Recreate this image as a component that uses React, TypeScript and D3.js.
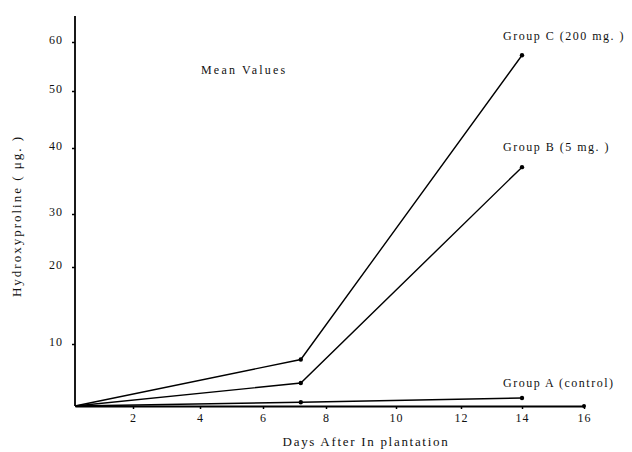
import * as d3 from "d3";
import React, { useEffect, useRef } from "react";

// days after implantation and mean hydroxyproline (µg.) per group
const days = [0, 7.2, 14];
const groupC = [0, 7.5, 57.3];
const groupB = [0, 3.7, 37.1];
const groupA = [0, 0.6, 1.3];
const seriesNames = ["Group C (200 mg. )", "Group B (5 mg. )", "Group A (control)"];

const xTicks = [2, 4, 6, 8, 10, 12, 14, 16];
const yTicks = [10, 20, 30, 40, 50, 60];

const W = 632;
const H = 452;
const FONT = "'Liberation Serif', 'Times New Roman', serif";

export default function App() {
  const chartRef = useRef<SVGSVGElement | null>(null);

  useEffect(() => {
    const svg = d3.select(chartRef.current);
    svg.selectAll("*").remove();

    // the axes in the original are hand drawn, so the scales are piecewise
    const x = d3
      .scaleLinear()
      .domain([0, 2, 4, 6, 8, 10, 12, 14, 16])
      .range([75, 133, 200, 263, 326, 396, 461, 522, 584]);
    const y = d3
      .scaleLinear()
      .domain([0, 10, 20, 30, 40, 50, 60])
      .range([406, 344, 267, 214, 148, 91, 42]);

    // x axis
    const xAxis = d3
      .axisBottom(x)
      .tickValues(xTicks)
      .tickSize(3)
      .tickSizeOuter(0)
      .tickPadding(4)
      .tickFormat(d3.format("d"));
    const gx = svg.append("g").attr("transform", `translate(0, ${y(0)})`).call(xAxis);
    gx.select(".domain").attr("stroke", "#000").attr("stroke-width", 1.8);
    gx.selectAll(".tick line").attr("stroke", "#000").attr("stroke-width", 1.5);
    gx.selectAll(".tick text")
      .attr("font-family", FONT)
      .attr("font-size", 12)
      .attr("letter-spacing", 1)
      .attr("fill", "#111");
    gx.append("circle").attr("cx", x(16)).attr("cy", 0).attr("r", 2).attr("fill", "#000");

    // y axis
    const yAxis = d3
      .axisLeft(y)
      .tickValues(yTicks)
      .tickSize(3)
      .tickPadding(9)
      .tickFormat(d3.format("d"));
    const gy = svg.append("g").attr("transform", `translate(${x(0)}, 0)`).call(yAxis);
    gy.select(".domain").remove();
    gy.append("line")
      .attr("y1", y(0))
      .attr("y2", y(65.3))
      .attr("stroke", "#000")
      .attr("stroke-width", 1.8);
    gy.selectAll(".tick line").attr("stroke", "#000").attr("stroke-width", 1.5);
    gy.selectAll(".tick text")
      .attr("font-family", FONT)
      .attr("font-size", 12)
      .attr("letter-spacing", 1)
      .attr("dy", "0.1em")
      .attr("fill", "#111");

    // series
    const series = [groupC, groupB, groupA];
    const line = d3
      .line<number>()
      .x((d, i) => x(days[i]))
      .y((d) => y(d));
    const labelDy = [-15, -16, -11];

    series.forEach((vals, k) => {
      svg.append("path")
        .attr("d", line(vals))
        .attr("fill", "none")
        .attr("stroke", "#000")
        .attr("stroke-width", 1.4);
      svg.selectAll(null)
        .data(vals.slice(1))
        .enter()
        .append("circle")
        .attr("cx", (d, i) => x(days[i + 1]))
        .attr("cy", (d) => y(d))
        .attr("r", 2.2)
        .attr("fill", "#000");
      const last = vals.length - 1;
      svg.append("text")
        .text(seriesNames[k])
        .attr("x", x(days[last]) - 19)
        .attr("y", y(vals[last]) + labelDy[k])
        .attr("font-family", FONT)
        .attr("font-size", 12)
        .attr("letter-spacing", 1.5)
        .attr("fill", "#111");
    });

    svg.append("text")
      .text("Mean Values")
      .attr("x", 201)
      .attr("y", 74)
      .attr("font-family", FONT)
      .attr("font-size", 12)
      .attr("letter-spacing", 2.2)
      .attr("fill", "#111");

    svg.append("text")
      .text("Days After In plantation")
      .attr("x", 366)
      .attr("y", 446)
      .attr("text-anchor", "middle")
      .attr("font-family", FONT)
      .attr("font-size", 13)
      .attr("letter-spacing", 1.7)
      .attr("fill", "#111");

    svg.append("text")
      .text("Hydroxyproline ( μg. )")
      .attr("text-anchor", "middle")
      .attr("transform", `translate(21, 216) rotate(-90)`)
      .attr("font-family", FONT)
      .attr("font-size", 13)
      .attr("letter-spacing", 2)
      .attr("fill", "#111");
  }, []);

  return (
    <svg
      ref={chartRef}
      width={W}
      height={H}
      style={{ position: "absolute", left: 0, top: 0, background: "#fff" }}
    />
  );
}
